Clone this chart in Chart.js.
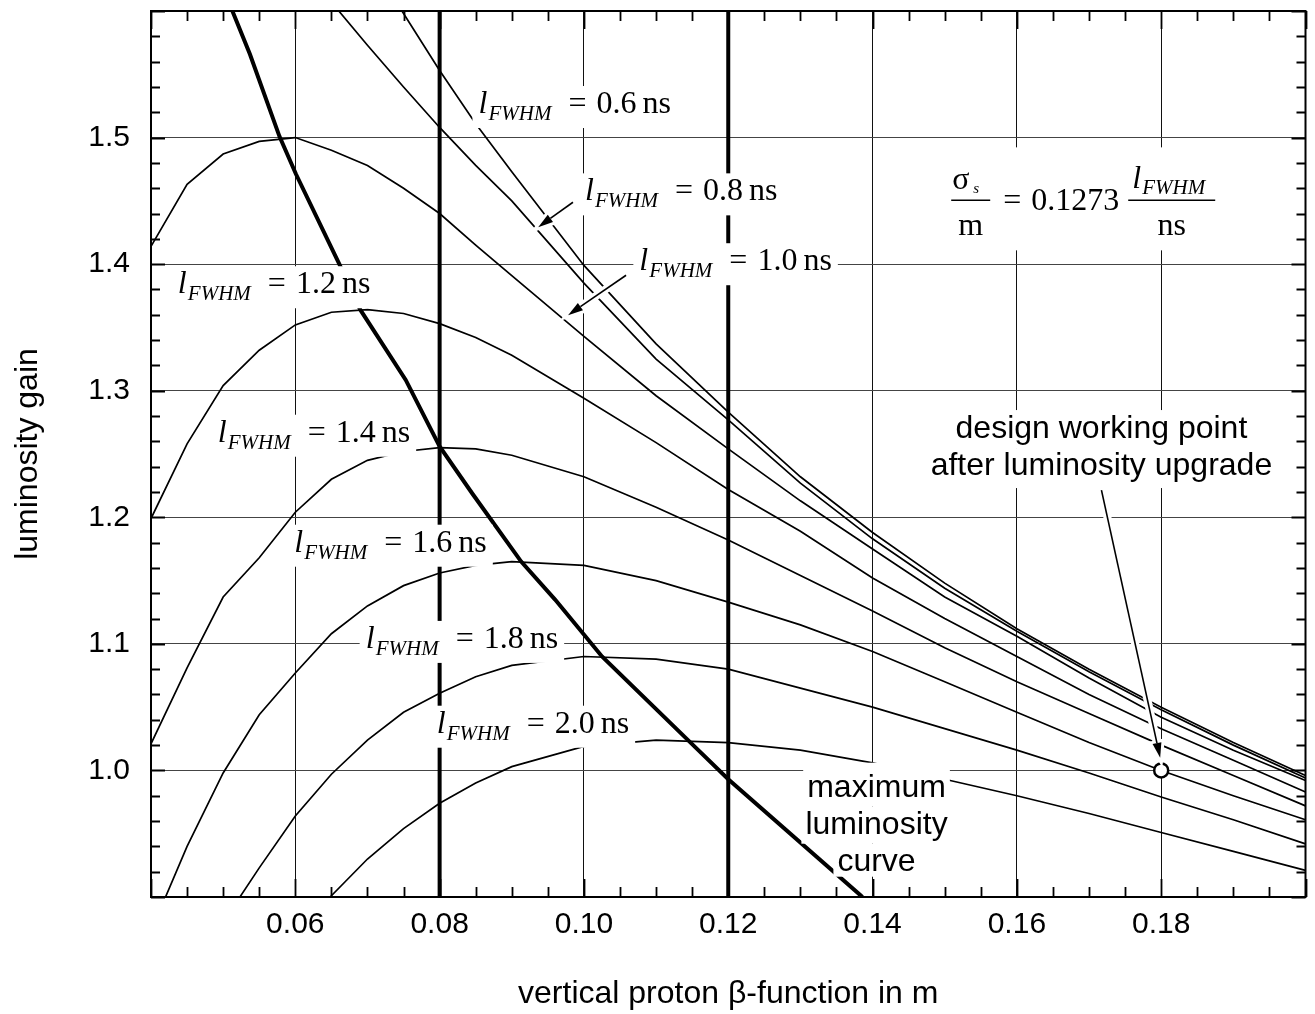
<!DOCTYPE html>
<html>
<head>
<meta charset="utf-8">
<script src="https://cdn.jsdelivr.net/npm/chart.js@4.4.1/dist/chart.umd.min.js"></script>
<style>
  html, body { margin: 0; padding: 0; background: #fff; }
  #wrap { width: 1315px; height: 1014px; }
</style>
</head>
<body>
<div id="wrap"><canvas id="gainChart" width="1315" height="1014"></canvas></div>
<script>
// vertical proton beta-function (m), common grid for the bunch length curves
const beta = [0.040, 0.045, 0.050, 0.055, 0.060, 0.065, 0.070, 0.075, 0.080, 0.085, 0.090,
              0.100, 0.110, 0.120, 0.130, 0.140, 0.150, 0.160, 0.170, 0.180, 0.190, 0.200];

// luminosity gain for each bunch length l_FWHM
const gain06 = [null, null, null, null, null, null, 1.643, 1.598, 1.553, 1.511, 1.473,
                1.399, 1.337, 1.283, 1.232, 1.188, 1.148, 1.112, 1.080, 1.050, 1.022, 0.996];
const gain08 = [null, null, null, null, null, 1.607, 1.573, 1.540, 1.508, 1.478, 1.450,
                1.385, 1.325, 1.277, 1.227, 1.183, 1.144, 1.110, 1.078, 1.048, 1.020, 0.994];
const gain10 = [1.414, 1.463, 1.487, 1.497, 1.500, 1.490, 1.478, 1.460, 1.440, 1.415, 1.391,
                1.343, 1.296, 1.254, 1.213, 1.175, 1.137, 1.106, 1.073, 1.042, 1.016, 0.992];
const gain12 = [1.199, 1.258, 1.304, 1.332, 1.352, 1.362, 1.364, 1.361, 1.353, 1.342, 1.328,
                1.294, 1.259, 1.222, 1.189, 1.152, 1.120, 1.090, 1.060, 1.033, 1.008, 0.983];
const gain14 = [1.021, 1.081, 1.137, 1.168, 1.204, 1.230, 1.245, 1.252, 1.255, 1.254, 1.249,
                1.232, 1.208, 1.182, 1.154, 1.126, 1.097, 1.070, 1.045, 1.020, 0.996, 0.972];
const gain16 = [0.873, 0.940, 0.998, 1.044, 1.077, 1.108, 1.130, 1.146, 1.156, 1.162, 1.165,
                1.162, 1.150, 1.133, 1.115, 1.094, 1.070, 1.046, 1.022, 1.000, 0.980, 0.961];
const gain18 = [null, null, 0.880, 0.923, 0.964, 0.997, 1.024, 1.046, 1.061, 1.074, 1.083,
                1.090, 1.088, 1.080, 1.065, 1.050, 1.033, 1.016, 0.998, 0.979, 0.961, 0.942];
const gain20 = [null, null, null, null, 0.863, 0.901, 0.930, 0.954, 0.974, 0.990, 1.003,
                1.019, 1.024, 1.022, 1.016, 1.006, 0.993, 0.980, 0.966, 0.951, 0.936, 0.921];

// maximum luminosity curve (through the peaks)
const maxBeta = [0.050, 0.0537, 0.0578, 0.0601, 0.0661, 0.0690, 0.0753, 0.0800, 0.0845,
                 0.0913, 0.0960, 0.1025, 0.1146, 0.1200, 0.1384, 0.1400];
const maxGain = [1.618, 1.566, 1.501, 1.471, 1.400, 1.364, 1.3085, 1.256, 1.219,
                 1.165, 1.135, 1.090, 1.023, 0.993, 0.901, 0.891];

// vertical markers and design working point
const betaMarks = [0.08, 0.12];
const designBeta = [0.18];
const designGain = [1.0];

const xTickValues = [0.06, 0.08, 0.10, 0.12, 0.14, 0.16, 0.18];
const xTickLabels = ['0.06', '0.08', '0.10', '0.12', '0.14', '0.16', '0.18'];
const yTickValues = [1.0, 1.1, 1.2, 1.3, 1.4, 1.5];
const yTickLabels = ['1.0', '1.1', '1.2', '1.3', '1.4', '1.5'];
const xMin = 0.04, xMax = 0.20, yMin = 0.9, yMax = 1.6;

const lengthNames = ['0.6', '0.8', '1.0', '1.2', '1.4', '1.6', '1.8', '2.0'];
const lengthGains = [gain06, gain08, gain10, gain12, gain14, gain16, gain18, gain20];

const SANS = '"Liberation Sans", Arial, sans-serif';
const SERIF = '"Liberation Serif", "Times New Roman", serif';

// where the text goes (data coordinates of the left end / baseline of each label)
const lengthLabelPos = [
  {x: 0.08538, y: 1.5194}, {x: 0.10014, y: 1.4504}, {x: 0.10768, y: 1.3952}, {x: 0.04372, y: 1.3770},
  {x: 0.04924, y: 1.2597}, {x: 0.05986, y: 1.1728}, {x: 0.06975, y: 1.0968}, {x: 0.07959, y: 1.0298}
];
const arrows = [
  {from: [0.09848, 1.4489], to: [0.09366, 1.4292]},
  {from: [0.10584, 1.3912], to: [0.0978, 1.3597]},
  {from: [0.17172, 1.2215], to: [0.17986, 1.0100]}
];

function isOn(list, v) {
  return list.some(t => Math.abs(t - v) < 1e-6);
}

function xy(xs, ys) {
  return xs.map((x, i) => ({x: x, y: ys[i]}));
}

function drawArrow(ctx, x0, y0, x1, y1) {
  const a = Math.atan2(y1 - y0, x1 - x0);
  const len = 15, half = 4.5;
  const bx = x1 - len * Math.cos(a), by = y1 - len * Math.sin(a);
  const lx = bx + half * Math.sin(a), ly = by - half * Math.cos(a);
  const rx = bx - half * Math.sin(a), ry = by + half * Math.cos(a);
  ctx.save();
  ctx.strokeStyle = '#fff';
  ctx.lineWidth = 8;
  ctx.beginPath(); ctx.moveTo(x0, y0); ctx.lineTo(bx, by); ctx.stroke();
  ctx.lineWidth = 6;
  ctx.beginPath(); ctx.moveTo(x1, y1); ctx.lineTo(lx, ly); ctx.lineTo(rx, ry); ctx.closePath(); ctx.stroke();
  ctx.strokeStyle = '#000';
  ctx.lineWidth = 1.6;
  ctx.beginPath(); ctx.moveTo(x0, y0); ctx.lineTo(bx, by); ctx.stroke();
  ctx.fillStyle = '#000';
  ctx.beginPath(); ctx.moveTo(x1, y1); ctx.lineTo(lx, ly); ctx.lineTo(rx, ry); ctx.closePath(); ctx.fill();
  ctx.restore();
}

// l_FWHM = v ns
function drawLength(ctx, X, Y, value) {
  ctx.font = '32px ' + SERIF;
  const weq = ctx.measureText('=').width;
  const wv = ctx.measureText(value).width;
  const wns = ctx.measureText('ns').width;
  const xEq = X + 90, xV = xEq + weq + 10, xNs = xV + wv + 6, right = xNs + wns;
  ctx.fillStyle = '#fff';
  ctx.fillRect(X - 6, Y - 27, right - X + 12, 42);
  ctx.fillStyle = '#000';
  ctx.textAlign = 'left';
  ctx.textBaseline = 'alphabetic';
  ctx.font = 'italic 32px ' + SERIF;
  ctx.fillText('l', X, Y);
  ctx.font = 'italic 21px ' + SERIF;
  ctx.fillText('FWHM', X + 10, Y + 7);
  ctx.font = '32px ' + SERIF;
  ctx.fillText('=', xEq, Y);
  ctx.fillText(value, xV, Y);
  ctx.fillText('ns', xNs, Y);
}

// sigma_s / m = 0.1273 l_FWHM / ns, anchored at left end of first fraction bar
function drawSigma(ctx, X, Y) {
  ctx.fillStyle = '#fff';
  ctx.fillRect(X - 7, Y - 53, 278, 103);
  ctx.fillStyle = '#000';
  ctx.strokeStyle = '#000';
  ctx.lineWidth = 1.5;
  ctx.beginPath(); ctx.moveTo(X, Y); ctx.lineTo(X + 39, Y); ctx.stroke();
  ctx.beginPath(); ctx.moveTo(X + 177, Y); ctx.lineTo(X + 264, Y); ctx.stroke();
  ctx.textBaseline = 'alphabetic';
  ctx.textAlign = 'left';
  ctx.font = '32px ' + SERIF;
  ctx.fillText('\u03C3', X + 1, Y - 11);
  ctx.font = 'italic 15px ' + SERIF;
  ctx.fillText('s', X + 22, Y - 7);
  ctx.font = '32px ' + SERIF;
  ctx.textAlign = 'center';
  ctx.fillText('m', X + 19.5, Y + 35);
  ctx.fillText('ns', X + 220.5, Y + 35);
  ctx.textAlign = 'left';
  ctx.fillText('=', X + 52, Y + 10);
  ctx.fillText('0.1273', X + 80, Y + 10);
  ctx.font = 'italic 32px ' + SERIF;
  ctx.fillText('l', X + 181, Y - 12);
  ctx.font = 'italic 21px ' + SERIF;
  ctx.fillText('FWHM', X + 191, Y - 6);
}

// centred multi-line sans text, each line on its own white box
function drawLines(ctx, cx, baselines, lines, padTop, padBottom) {
  ctx.font = '32px ' + SANS;
  ctx.textAlign = 'center';
  ctx.textBaseline = 'alphabetic';
  lines.forEach((t, i) => {
    const w = ctx.measureText(t).width;
    const top = i === 0 ? baselines[0] - padTop : baselines[i] - 27;
    const bot = i === lines.length - 1 ? baselines[i] + padBottom : baselines[i] + 10;
    ctx.fillStyle = '#fff';
    ctx.fillRect(cx - w / 2 - 4, top, w + 8, bot - top);
  });
  ctx.fillStyle = '#000';
  lines.forEach((t, i) => ctx.fillText(t, cx, baselines[i]));
}

const decorations = {
  id: 'decorations',
  afterDatasetsDraw(chart) {
    const ctx = chart.ctx;
    const xs = chart.scales.x, ys = chart.scales.y;
    const px = v => xs.getPixelForValue(v);
    const py = v => ys.getPixelForValue(v);
    ctx.save();

    arrows.forEach(a => drawArrow(ctx, px(a.from[0]), py(a.from[1]), px(a.to[0]), py(a.to[1])));

    lengthLabelPos.forEach((p, i) => drawLength(ctx, px(p.x), py(p.y), lengthNames[i]));

    drawSigma(ctx, px(0.1509), py(1.4504));

    const dx = px(0.17172), dy = py(1.2626);
    drawLines(ctx, dx, [dy, dy + 37], ['design working point', 'after luminosity upgrade'], 28, 13);

    const mx = px(0.14055), my = py(0.97924);
    drawLines(ctx, mx, [my, my + 37, my + 74], ['maximum', 'luminosity', 'curve'], 34, 6);

    // frame and inward ticks
    const {left, right, top, bottom} = chart.chartArea;
    ctx.strokeStyle = '#000';
    ctx.lineWidth = 2;
    ctx.strokeRect(left, top, right - left, bottom - top);
    ctx.beginPath();
    for (let k = 0; k <= 32; k++) {
      const v = xMin + k * 0.005;
      const p = Math.round(px(v)) + 0.5;
      const len = k % 4 === 0 ? 18 : 10;
      ctx.moveTo(p, bottom); ctx.lineTo(p, bottom - len);
      ctx.moveTo(p, top); ctx.lineTo(p, top + len);
    }
    for (let k = 0; k <= 35; k++) {
      const v = yMin + k * 0.02;
      const p = Math.round(py(v)) + 0.5;
      const len = k % 5 === 0 ? 14 : 9;
      ctx.moveTo(left, p); ctx.lineTo(left + len, p);
      ctx.moveTo(right, p); ctx.lineTo(right - len, p);
    }
    ctx.lineWidth = 1.8;
    ctx.stroke();
    ctx.restore();
  }
};

const thin = {borderColor: '#000', borderWidth: 1.7, pointRadius: 0, tension: 0, fill: false};

const datasets = [
  {
    type: 'scatter', data: xy(designBeta, designGain), order: -1, clip: false,
    pointRadius: 7, pointBackgroundColor: '#fff', pointBorderColor: '#000', pointBorderWidth: 2.5
  },
  Object.assign({type: 'line', data: xy(maxBeta, maxGain)}, thin, {borderWidth: 4})
];
betaMarks.forEach(b => {
  datasets.push(Object.assign({type: 'line', data: xy([b, b], [yMin, yMax])}, thin, {borderWidth: 4}));
});
lengthGains.forEach(g => {
  datasets.push(Object.assign({type: 'line', data: xy(beta, g)}, thin));
});

new Chart(document.getElementById('gainChart'), {
  type: 'line',
  data: {datasets: datasets},
  options: {
    responsive: false,
    devicePixelRatio: 1,
    animation: false,
    layout: {padding: {left: 0, top: 11, right: 6, bottom: 0}},
    plugins: {legend: {display: false}, tooltip: {enabled: false}},
    scales: {
      x: {
        type: 'linear', min: xMin, max: xMax,
        afterFit(s) { s.height = 117; s.paddingLeft = 0; s.paddingRight = 0; },
        border: {display: false},
        grid: {
          drawTicks: false, lineWidth: 1,
          color: c => (c.tick && isOn(xTickValues, c.tick.value)) ? '#111' : 'rgba(0,0,0,0)'
        },
        ticks: {
          stepSize: 0.02, autoSkip: false, maxRotation: 0, padding: 10, color: '#000',
          font: {family: SANS, size: 30},
          callback: v => { const i = xTickValues.findIndex(t => Math.abs(t - v) < 1e-6); return i < 0 ? '' : xTickLabels[i]; }
        },
        title: {
          display: true, text: 'vertical proton \u03B2-function in m', color: '#000',
          font: {family: SANS, size: 32}, padding: {top: 0, bottom: 1}
        }
      },
      y: {
        type: 'linear', min: yMin, max: yMax,
        afterFit(s) { s.width = 151; s.paddingTop = 0; s.paddingBottom = 0; },
        border: {display: false},
        grid: {
          drawTicks: false, lineWidth: 1,
          color: c => (c.tick && isOn(yTickValues, c.tick.value)) ? '#444' : 'rgba(0,0,0,0)'
        },
        ticks: {
          stepSize: 0.1, autoSkip: false, padding: 21, color: '#000',
          font: {family: SANS, size: 30},
          callback: v => { const i = yTickValues.findIndex(t => Math.abs(t - v) < 1e-6); return i < 0 ? '' : yTickLabels[i]; }
        },
        title: {
          display: true, text: 'luminosity gain', color: '#000',
          font: {family: SANS, size: 32}, padding: {top: 9, bottom: 0}
        }
      }
    }
  },
  plugins: [decorations]
});
</script>
</body>
</html>
